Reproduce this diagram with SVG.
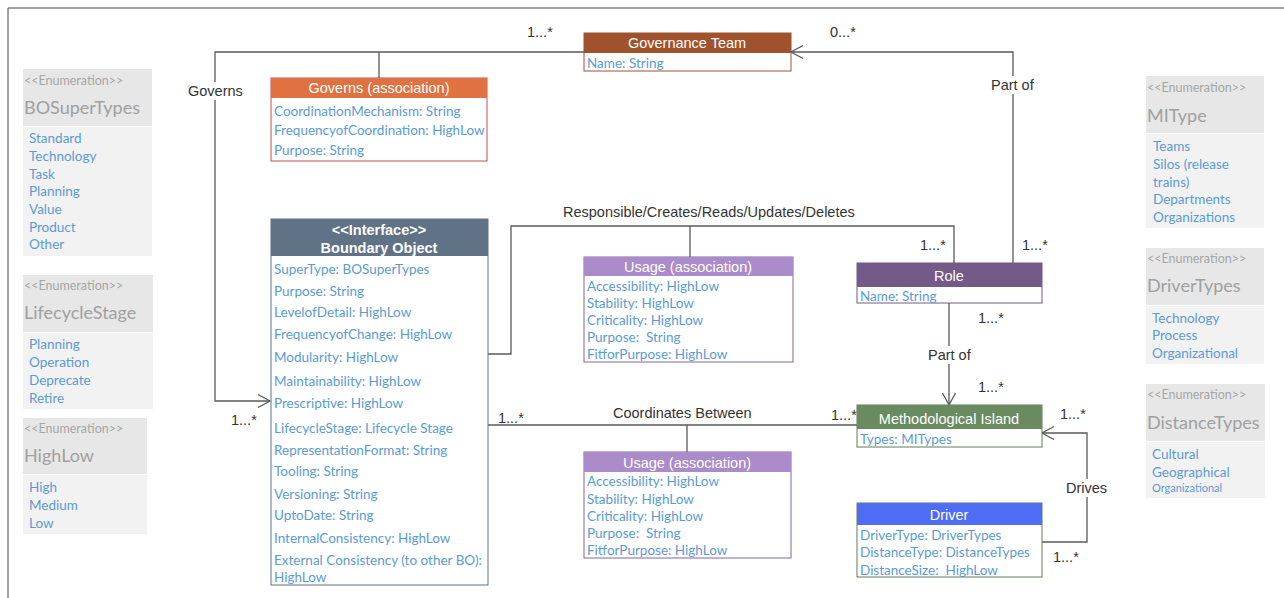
<svg xmlns="http://www.w3.org/2000/svg" width="1284" height="598" viewBox="0 0 1284 598">
<defs>
<style>
.attr{font-family:Lato,"Open Sans",sans-serif;font-size:13.5px;fill:#5b9bd5;white-space:pre}
.hdr{font-family:"Liberation Sans",Arial,sans-serif;font-size:14.5px;fill:#fff;text-anchor:middle}
.hdrb{font-family:"Liberation Sans",Arial,sans-serif;font-size:14.5px;fill:#fff;text-anchor:middle;font-weight:bold}
.lbl{font-family:"Liberation Sans",Arial,sans-serif;font-size:14.5px;fill:#333}
.enh{fill:#e7e7e7}
.enb{fill:#f2f2f2}
.ens{font-family:Lato,"Open Sans",sans-serif;font-size:12.5px;fill:#a6a6a6}
.ent{font-family:Lato,"Open Sans",sans-serif;font-size:18px;fill:#a0a0a0}
.eni{font-family:Lato,"Open Sans",sans-serif;font-size:13.5px;fill:#5b9bd5}
.con{fill:none;stroke:#595959;stroke-width:1.3}
.bg{fill:#fff}
</style>
<marker id="open" markerUnits="userSpaceOnUse" markerWidth="16" markerHeight="16" viewBox="-14 -8 16 16" refX="0" refY="0" orient="auto">
<path d="M-12,-6.5 L0,0 L-12,6.5" fill="none" stroke="#595959" stroke-width="1.3"/>
</marker>
</defs>
<rect width="1284" height="598" fill="#fff"/>
<path d="M8,598 V8 H1284" fill="none" stroke="#444" stroke-width="1"/>

<g id="connectors">
<polyline class="con" points="584,52 215,52 215,401 270,401" marker-end="url(#open)"/>
<line class="con" x1="379" y1="52" x2="379" y2="78"/>
<polyline class="con" points="1013,263 1013,52 791,52" marker-end="url(#open)"/>
<polyline class="con" points="488,354 511,354 511,226 954,226 954,263"/>
<line class="con" x1="690" y1="226" x2="690" y2="257"/>
<line class="con" x1="488" y1="425" x2="857" y2="425"/>
<line class="con" x1="687" y1="425" x2="687" y2="452"/>
<line class="con" x1="949" y1="303" x2="949" y2="405" marker-end="url(#open)"/>
<polyline class="con" points="1042,542 1087,542 1087,433 1042,433" marker-end="url(#open)"/>
<rect class="bg" x="186" y="82" width="58" height="18"/>
<text class="lbl" x="188" y="96">Governs</text>
<rect class="bg" x="989" y="76" width="48" height="18"/>
<text class="lbl" x="991" y="90">Part of</text>
<rect class="bg" x="926" y="346" width="48" height="18"/>
<text class="lbl" x="928" y="360">Part of</text>
<rect class="bg" x="1064" y="479" width="46" height="18"/>
<text class="lbl" x="1066" y="493">Drives</text>
<text class="lbl" x="563" y="217">Responsible/Creates/Reads/Updates/Deletes</text>
<text class="lbl" x="613" y="418">Coordinates Between</text>
<text class="lbl" x="527" y="37">1...*</text>
<text class="lbl" x="830" y="37">0...*</text>
<text class="lbl" x="920" y="250">1...*</text>
<text class="lbl" x="1022" y="250">1...*</text>
<text class="lbl" x="978" y="323">1...*</text>
<text class="lbl" x="978" y="392">1...*</text>
<text class="lbl" x="1060" y="419">1...*</text>
<text class="lbl" x="1053" y="562">1...*</text>
<text class="lbl" x="498" y="423">1...*</text>
<text class="lbl" x="831" y="420">1...*</text>
<text class="lbl" x="231" y="425">1...*</text>
</g>

<g id="governance-team">
<rect x="584" y="33" width="207" height="38" fill="#fff" stroke="#a0522d" stroke-width="1"/>
<rect x="584" y="33" width="207" height="20" fill="#a0522d"/>
<text class="hdr" x="687" y="48">Governance Team</text>
<text class="attr" x="587" y="68">Name: String</text>
</g>

<g id="governs-association">
<rect x="271" y="78" width="216" height="83" fill="#fff" stroke="#c0504d" stroke-width="1"/>
<rect x="271" y="78" width="216" height="20" fill="#e07242"/>
<text class="hdr" x="379" y="93">Governs (association)</text>
<text class="attr" x="274" y="116">CoordinationMechanism: String</text>
<text class="attr" x="274" y="135">FrequencyofCoordination: HighLow</text>
<text class="attr" x="274" y="155">Purpose: String</text>
</g>

<g id="boundary-object">
<rect x="271" y="219" width="217" height="366" fill="#fff" stroke="#5f7286" stroke-width="1"/>
<rect x="271" y="219" width="217" height="37" fill="#5f7286"/>
<text class="hdrb" x="379" y="235">&lt;&lt;Interface&gt;&gt;</text>
<text class="hdrb" x="379" y="253">Boundary Object</text>
<text class="attr" x="274" y="274">SuperType: BOSuperTypes</text>
<text class="attr" x="274" y="295.5">Purpose: String</text>
<text class="attr" x="274" y="317">LevelofDetail: HighLow</text>
<text class="attr" x="274" y="338.5">FrequencyofChange: HighLow</text>
<text class="attr" x="274" y="362">Modularity: HighLow</text>
<text class="attr" x="274" y="386">Maintainability: HighLow</text>
<text class="attr" x="274" y="408">Prescriptive: HighLow</text>
<text class="attr" x="274" y="432.5">LifecycleStage: Lifecycle Stage</text>
<text class="attr" x="274" y="455">RepresentationFormat: String</text>
<text class="attr" x="274" y="476">Tooling: String</text>
<text class="attr" x="274" y="498.5">Versioning: String</text>
<text class="attr" x="274" y="520">UptoDate: String</text>
<text class="attr" x="274" y="542.5">InternalConsistency: HighLow</text>
<text class="attr" x="274" y="565">External Consistency (to other BO):</text>
<text class="attr" x="274" y="582">HighLow</text>
</g>

<g id="usage-association-1">
<rect x="584" y="257" width="209" height="105" fill="#fff" stroke="#8064a2" stroke-width="1"/>
<rect x="584" y="257" width="209" height="19" fill="#ac8bca"/>
<text class="hdr" x="688" y="272">Usage (association)</text>
<text class="attr" x="587" y="290.5">Accessibility: HighLow</text>
<text class="attr" x="587" y="307.5">Stability: HighLow</text>
<text class="attr" x="587" y="324.5">Criticality: HighLow</text>
<text class="attr" x="587" y="341.5">Purpose:  String</text>
<text class="attr" x="587" y="358.5">FitforPurpose: HighLow</text>
</g>

<g id="usage-association-2">
<rect x="584" y="452" width="207" height="106" fill="#fff" stroke="#8064a2" stroke-width="1"/>
<rect x="584" y="452" width="207" height="20" fill="#ac8bca"/>
<text class="hdr" x="687" y="468">Usage (association)</text>
<text class="attr" x="587" y="486">Accessibility: HighLow</text>
<text class="attr" x="587" y="503.5">Stability: HighLow</text>
<text class="attr" x="587" y="520.5">Criticality: HighLow</text>
<text class="attr" x="587" y="537.5">Purpose:  String</text>
<text class="attr" x="587" y="554.5">FitforPurpose: HighLow</text>
</g>

<g id="role">
<rect x="857" y="263" width="185" height="40" fill="#fff" stroke="#735a88" stroke-width="1"/>
<rect x="857" y="263" width="185" height="24" fill="#735a88"/>
<text class="hdr" x="949" y="281">Role</text>
<text class="attr" x="860" y="301">Name: String</text>
</g>

<g id="methodological-island">
<rect x="857" y="405" width="185" height="42" fill="#fff" stroke="#5f7f52" stroke-width="1"/>
<rect x="857" y="405" width="185" height="24" fill="#6a8b5f"/>
<text class="hdr" x="949" y="424">Methodological Island</text>
<text class="attr" x="860" y="443.5">Types: MITypes</text>
</g>

<g id="driver">
<rect x="857" y="503" width="185" height="74" fill="#fff" stroke="#5f7f52" stroke-width="1"/>
<rect x="857" y="503" width="185" height="22" fill="#4f6cf5"/>
<text class="hdr" x="949" y="520">Driver</text>
<text class="attr" x="860" y="539.5">DriverType: DriverTypes</text>
<text class="attr" x="860" y="557">DistanceType: DistanceTypes</text>
<text class="attr" x="860" y="574.5">DistanceSize:  HighLow</text>
</g>

<g id="enum-bosupertypes">
<rect class="enh" x="23" y="69" width="129" height="57"/>
<rect class="enb" x="23" y="127" width="129" height="129"/>
<text class="ens" x="24" y="85">&lt;&lt;Enumeration&gt;&gt;</text>
<text class="ent" x="24" y="114">BOSuperTypes</text>
<text class="eni" x="29" y="142.5">Standard</text>
<text class="eni" x="29" y="160.5">Technology</text>
<text class="eni" x="29" y="178.5">Task</text>
<text class="eni" x="29" y="196">Planning</text>
<text class="eni" x="29" y="213.5">Value</text>
<text class="eni" x="29" y="231.5">Product</text>
<text class="eni" x="29" y="249">Other</text>
</g>

<g id="enum-lifecyclestage">
<rect class="enh" x="23" y="275" width="130" height="57"/>
<rect class="enb" x="23" y="333" width="130" height="76"/>
<text class="ens" x="24" y="290">&lt;&lt;Enumeration&gt;&gt;</text>
<text class="ent" x="24" y="319">LifecycleStage</text>
<text class="eni" x="29" y="348.5">Planning</text>
<text class="eni" x="29" y="367">Operation</text>
<text class="eni" x="29" y="384.5">Deprecate</text>
<text class="eni" x="29" y="402.5">Retire</text>
</g>

<g id="enum-highlow">
<rect class="enh" x="23" y="418" width="124" height="56"/>
<rect class="enb" x="23" y="475" width="124" height="59"/>
<text class="ens" x="24" y="433">&lt;&lt;Enumeration&gt;&gt;</text>
<text class="ent" x="24" y="462">HighLow</text>
<text class="eni" x="29" y="491.5">High</text>
<text class="eni" x="29" y="509.5">Medium</text>
<text class="eni" x="29" y="527.5">Low</text>
</g>

<g id="enum-mitype">
<rect class="enh" x="1146" y="76" width="118" height="57"/>
<rect class="enb" x="1146" y="134" width="118" height="94"/>
<text class="ens" x="1147" y="92">&lt;&lt;Enumeration&gt;&gt;</text>
<text class="ent" x="1147" y="122">MIType</text>
<text class="eni" x="1153" y="151">Teams</text>
<text class="eni" x="1153" y="169">Silos (release</text>
<text class="eni" x="1153" y="186.5">trains)</text>
<text class="eni" x="1153" y="203.5">Departments</text>
<text class="eni" x="1153" y="221.5">Organizations</text>
</g>

<g id="enum-drivertypes">
<rect class="enh" x="1146" y="248" width="118" height="57"/>
<rect class="enb" x="1146" y="306" width="118" height="58"/>
<text class="ens" x="1147" y="263">&lt;&lt;Enumeration&gt;&gt;</text>
<text class="ent" x="1147" y="292">DriverTypes</text>
<text class="eni" x="1152" y="322.5">Technology</text>
<text class="eni" x="1152" y="340">Process</text>
<text class="eni" x="1152" y="357.5">Organizational</text>
</g>

<g id="enum-distancetypes">
<rect class="enh" x="1146" y="384" width="119" height="57"/>
<rect class="enb" x="1146" y="442" width="119" height="56"/>
<text class="ens" x="1147" y="399">&lt;&lt;Enumeration&gt;&gt;</text>
<text class="ent" x="1147" y="429">DistanceTypes</text>
<text class="eni" x="1152" y="458.5">Cultural</text>
<text class="eni" x="1152" y="476.5">Geographical</text>
<text class="eni" x="1152" y="492" style="font-size:11px">Organizational</text>
</g>
</svg>
